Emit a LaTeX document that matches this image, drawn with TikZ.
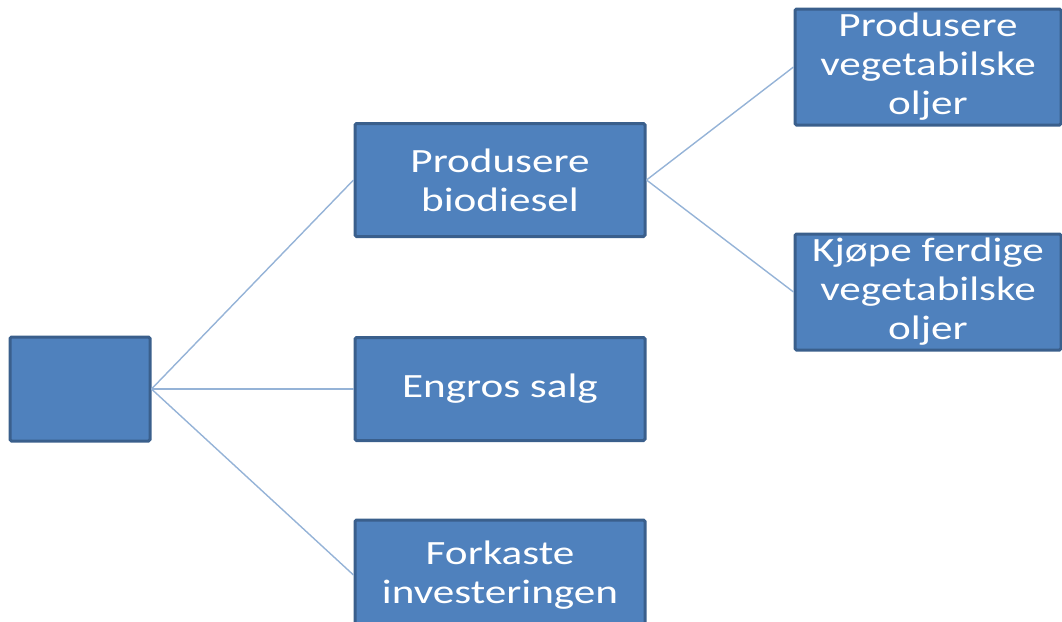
\documentclass[tikz,border=0pt]{standalone}
\usepackage{fontspec}
\newfontfamily\boxfont[FakeStretch=1.27]{Carlito}
\usepackage{tikz}

\definecolor{boxfill}{HTML}{4F81BD}
\definecolor{boxline}{HTML}{3A5F8C}
\definecolor{linkline}{HTML}{95B3D7}

\tikzset{
  box/.style={draw=boxline, line width=3pt, fill=boxfill, rounded corners=1.5pt,
    text=white, align=center, inner sep=0pt,
    font=\boxfont\fontsize{34}{39}\selectfont},
  link/.style={draw=linkline, line width=1.4pt}
}

\begin{document}
\begin{tikzpicture}[x=1pt,y=-1pt]

\clip (0,0) rectangle (1062,621);

\node[box, minimum width=140, minimum height=104] (root) at (80,389) {};

\node[box, minimum width=290, minimum height=113] (bio) at (500,180) {Produsere\\biodiesel};
\node[box, minimum width=290, minimum height=103] (engros) at (500,389) {Engros salg};
\node[box, minimum width=290, minimum height=110] (forkast) at (500,575) {Forkaste\\investeringen};

\node[box, minimum width=266, minimum height=116] (egen) at (928,67) {Produsere\\vegetabilske\\oljer};
\node[box, minimum width=266, minimum height=116] (kjop) at (928,292) {Kjøpe ferdige\\vegetabilske\\oljer};

\draw[link] (root.east) -- (bio.west);
\draw[link] (root.east) -- (engros.west);
\draw[link] (root.east) -- (forkast.west);

\draw[link] (bio.east) -- (egen.west);
\draw[link] (bio.east) -- (kjop.west);
\end{tikzpicture}
\end{document}
